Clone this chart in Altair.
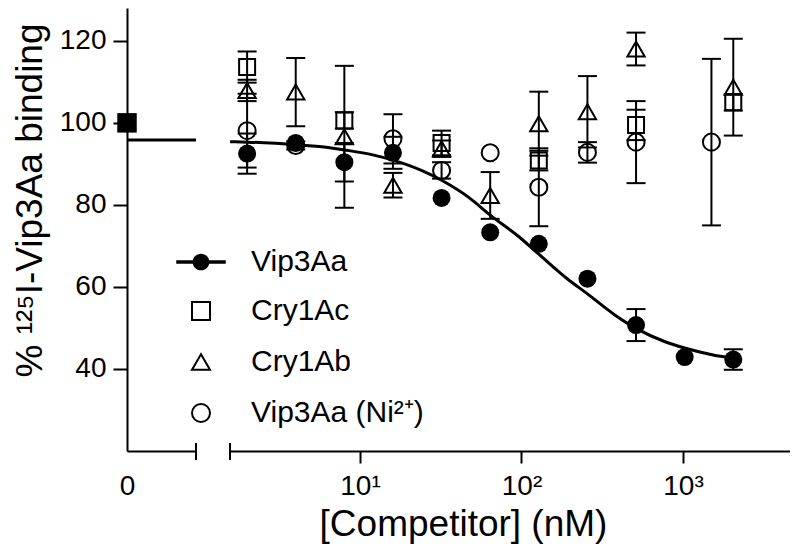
import altair as alt
import pandas as pd

# ---------------- data ----------------
series_names = ["Vip3Aa", "Cry1Ac", "Cry1Ab", "Vip3Aa (Ni²⁺)"]

vip_conc = [2, 4, 8, 16, 32, 64, 128, 256, 512, 1024, 2048]
vip_mean = [92.5, 95.1, 90.4, 92.7, 81.7, 73.3, 70.5, 62.0, 50.7, 42.9, 42.3]
vip_err = [4.9, 0, 4.7, 3.9, 0, 0, 0, 0, 3.9, 0, 2.5]

ac_conc = [2, 8, 32, 128, 512, 2048]
ac_mean = [113.6, 100.6, 95.1, 90.8, 99.5, 105.0]
ac_err = [3.8, 2.0, 3.0, 2.4, 3.7, 2.0]

ab_conc = [2, 4, 8, 16, 32, 64, 128, 256, 512, 2048]
ab_mean = [107.9, 107.5, 96.6, 84.8, 93.7, 82.3, 99.8, 102.7, 118.0, 108.7]
ab_err = [2.6, 8.3, 17.3, 3.0, 2.0, 5.7, 7.8, 8.7, 4.0, 11.8]

ni_conc = [2, 4, 16, 32, 64, 128, 256, 512, 1500]
ni_mean = [98.1, 94.5, 96.1, 88.4, 92.7, 84.3, 92.8, 95.3, 95.3]
ni_err = [9.0, 1.0, 6.0, 2.0, 0, 9.5, 2.5, 10.0, 20.3]

# control (no competitor) and fitted curve
zero_pos = [0, 1]
zero_curve = [95.8, 95.8]
ctrl_mean = [100.0]

curve_conc = [1.57, 2, 3, 4, 6, 8, 12, 16, 24, 32, 48, 64, 96, 128, 192,
              256, 384, 512, 768, 1024, 1536, 2048, 2200]
curve_val = [95.4, 95.3, 95.0, 94.7, 94.1, 93.4, 92.2, 90.9, 88.4, 86.0, 81.6,
             77.5, 72.3, 68.0, 62.0, 58.3, 53.0, 49.9, 46.7, 45.1, 43.4, 42.6, 42.3]

x_tick_values = [10, 100, 1000]
x_tick_labels = ["10¹", "10²", "10³"]
y_tick_values = [40, 60, 80, 100, 120]

# ---------------- tables ----------------
rows = []
for name, cs, ms, es in [(series_names[0], vip_conc, vip_mean, vip_err),
                         (series_names[1], ac_conc, ac_mean, ac_err),
                         (series_names[2], ab_conc, ab_mean, ab_err),
                         (series_names[3], ni_conc, ni_mean, ni_err)]:
    for c, m, e in zip(cs, ms, es):
        rows.append({"series": name, "conc": c, "mean": m, "err": e,
                     "lo": m - e, "hi": m + e})
df = pd.DataFrame(rows)
curve_df = pd.DataFrame({"conc": curve_conc, "val": curve_val})
zero_df = pd.DataFrame({"pos": zero_pos, "val": zero_curve})
ctrl_df = pd.DataFrame({"pos": [0], "val": ctrl_mean})
leg1_df = pd.DataFrame({"s1": series_names[:1]})
leg2_df = pd.DataFrame({"s2": series_names[1:]})

FONT = "Liberation Sans"
H = 443
W_LEFT = 69
W_RIGHT = 560

yscale = alt.Scale(domain=[20, 128], nice=False, zero=False)
xlog = alt.Scale(type="log", domain=[1.567, 4598], nice=False)

label_expr = " : ".join(
    [f"datum.value == {v} ? '{l}'" for v, l in zip(x_tick_values, x_tick_labels)]
) + " : ''"

xr_axis = alt.Axis(values=x_tick_values, labelExpr=label_expr, title="[Competitor] (nM)",
                   titleX=233, titleY=84, titleBaseline="alphabetic", titleAlign="center",
                   labelPadding=9, titleFontSize=37)

base = alt.Chart(df)
X = alt.X("conc:Q", scale=xlog, axis=xr_axis)
Yn = lambda f: alt.Y(f, scale=yscale, axis=None)

bars = base.transform_filter("datum.err > 0").mark_rule(color="black", strokeWidth=2).encode(
    x=X, y=Yn("lo:Q"), y2="hi:Q")
cap_lo = base.transform_filter("datum.err > 0").mark_tick(
    orient="horizontal", size=19, thickness=2, color="black", opacity=1).encode(x=X, y=Yn("lo:Q"))
cap_hi = base.transform_filter("datum.err > 0").mark_tick(
    orient="horizontal", size=19, thickness=2, color="black", opacity=1).encode(x=X, y=Yn("hi:Q"))

curve = alt.Chart(curve_df).mark_line(color="black", strokeWidth=3, interpolate="monotone").encode(
    x=X, y=Yn("val:Q"))

def pts(name, shape, size, filled):
    return base.transform_filter(alt.datum.series == name).mark_point(
        shape=shape, size=size, filled=filled, color="black", strokeWidth=2, opacity=1
    ).encode(x=X, y=Yn("mean:Q"))

sq = pts(series_names[1], "square", 256, False)
tri = pts(series_names[2], "triangle-up", 300, False)
oc = pts(series_names[3], "circle", 290, False)
fc = pts(series_names[0], "circle", 324, True)

LEG_X = 59
common_leg = dict(title=None, orient="none", legendX=LEG_X,
                  labelFontSize=30, labelFont=FONT, labelColor="black", labelLimit=0,
                  symbolSize=324, rowPadding=21, labelOffset=35)

legend_path = ("M-2.75,-0.2 L2.75,-0.2 L2.75,0.2 L-2.75,0.2 Z "
               "M0.93,0 A0.93,0.93 0 1,1 -0.93,0 A0.93,0.93 0 1,1 0.93,0 Z")
leg1 = alt.Chart(leg1_df).transform_filter("false").mark_point(
    filled=True, opacity=1, size=324).encode(
    fill=alt.Fill("s1:N", scale=alt.Scale(domain=series_names[:1], range=["black"]),
                  legend=alt.Legend(legendY=239, symbolType=legend_path,
                                    symbolStrokeWidth=0, **common_leg)))
leg2 = alt.Chart(leg2_df).transform_filter("false").mark_point(
    filled=False, color="black", strokeWidth=2, opacity=1, size=300).encode(
    shape=alt.Shape("s2:N", sort=None,
                    scale=alt.Scale(domain=series_names[1:],
                                    range=["square", "triangle-up", "circle"]),
                    legend=alt.Legend(legendY=288, symbolStrokeWidth=2,
                                      symbolStrokeColor="black", **common_leg)))

brk_r = alt.Chart(leg1_df).mark_rule(color="black", strokeWidth=2).encode(
    x=alt.value(0), y=alt.value(H - 8), y2=alt.value(H + 9))

right = alt.layer(bars, cap_lo, cap_hi, curve, sq, tri, oc, fc, leg1, leg2, brk_r).properties(
    width=W_RIGHT, height=H)

# ---------------- left (zero) panel ----------------
xl = alt.Scale(domain=[0, 1], nice=False, zero=False)
xl_axis = alt.Axis(values=[0], labelExpr="'0'", ticks=False, title=None, labelPadding=21,
                   labelFlush=False)
yl_axis = alt.Axis(values=y_tick_values, title="% ¹²⁵I-Vip3Aa binding", titleX=-86, titleY=192,
                   titleAngle=270, titleAlign="center", titleBaseline="alphabetic",
                   titleFontSize=37, labelPadding=7, tickSize=14)

zline = alt.Chart(zero_df).mark_line(color="black", strokeWidth=3).encode(
    x=alt.X("pos:Q", scale=xl, axis=xl_axis),
    y=alt.Y("val:Q", scale=yscale, axis=yl_axis))
zpt = alt.Chart(ctrl_df).mark_point(shape="square", filled=True, size=380, color="black",
                                    opacity=1).encode(
    x=alt.X("pos:Q", scale=xl, axis=xl_axis),
    y=alt.Y("val:Q", scale=yscale, axis=yl_axis))
brk_l = alt.Chart(ctrl_df).mark_rule(color="black", strokeWidth=2).encode(
    x=alt.value(W_LEFT), y=alt.value(H - 8), y2=alt.value(H + 9))

left = alt.layer(zline, zpt, brk_l).properties(width=W_LEFT, height=H)

chart = alt.hconcat(left, right, spacing=22).properties(
    padding={"left": 2, "top": 0, "right": 0, "bottom": 4},
    background="white",
).configure_view(stroke=None).configure_axis(
    grid=False, domainColor="black", domainWidth=2, tickColor="black", tickWidth=2,
    tickSize=12, labelFont=FONT, labelFontSize=28, labelColor="black",
    titleFont=FONT, titleFontSize=35, titleFontWeight="normal", titleColor="black"
)

chart.save("out.html", embed_options={"renderer": "svg", "actions": False})
